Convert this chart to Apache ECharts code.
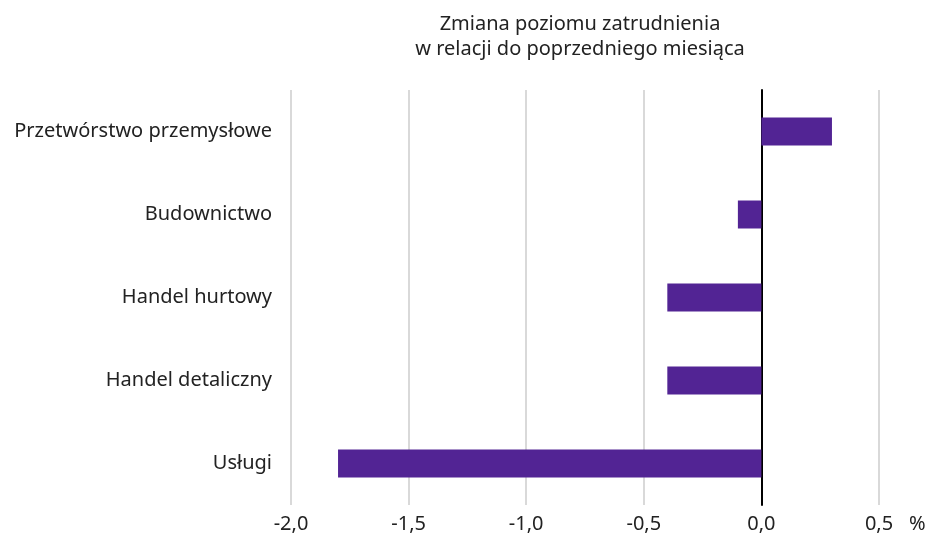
<!DOCTYPE html>
<html>
<head>
<meta charset="utf-8">
<script src="https://cdn.jsdelivr.net/npm/echarts@6/dist/echarts.min.js"></script>
<style>
  html, body { margin: 0; padding: 0; background: #fff; }
  #chart { width: 930px; height: 543px; }
</style>
</head>
<body>
<div id="chart"></div>
<script>
// dane z wykresu
var sektory = ['Przetwórstwo przemysłowe', 'Budownictwo', 'Handel hurtowy', 'Handel detaliczny', 'Usługi'];
var zmiana = [0.3, -0.1, -0.4, -0.4, -1.8];
var tytul = 'Zmiana poziomu zatrudnienia\nw relacji do poprzedniego miesiąca';

var font = '"Noto Sans", sans-serif';
var myChart = echarts.init(document.getElementById('chart'));

var option = {
    animation: false,
    title: {
        text: tytul,
        left: 575,
        top: 7,
        textAlign: 'center',
        textStyle: { fontFamily: font, fontSize: 20, fontWeight: 'normal', color: '#222', lineHeight: 25 }
    },
    grid: { left: 291, right: 51, top: 90, bottom: 38 },
    xAxis: {
        type: 'value',
        min: -2,
        max: 0.5,
        interval: 0.5,
        name: '%',
        nameLocation: 'end',
        nameGap: 30,
        nameTextStyle: { fontFamily: font, fontSize: 20, color: '#222', verticalAlign: 'top', padding: [9, 0, 0, 0] },
        axisLine: { show: false },
        axisTick: { show: false },
        axisLabel: {
            fontFamily: font, fontSize: 20, color: '#222', margin: 9,
            formatter: function (v) { return v.toFixed(1).replace('.', ','); }
        },
        splitLine: { lineStyle: { color: '#d9d9d9', width: 2 } }
    },
    yAxis: {
        type: 'category',
        data: sektory,
        inverse: true,
        axisLine: { onZero: true, lineStyle: { color: '#000', width: 2 } },
        axisTick: { show: false },
        axisLabel: { fontFamily: font, fontSize: 20, color: '#222', margin: 19 }
    },
    series: [{
        type: 'bar',
        data: zmiana,
        barWidth: 28,
        itemStyle: { color: '#522494' }
    }]
};

myChart.setOption(option);
</script>
</body>
</html>
